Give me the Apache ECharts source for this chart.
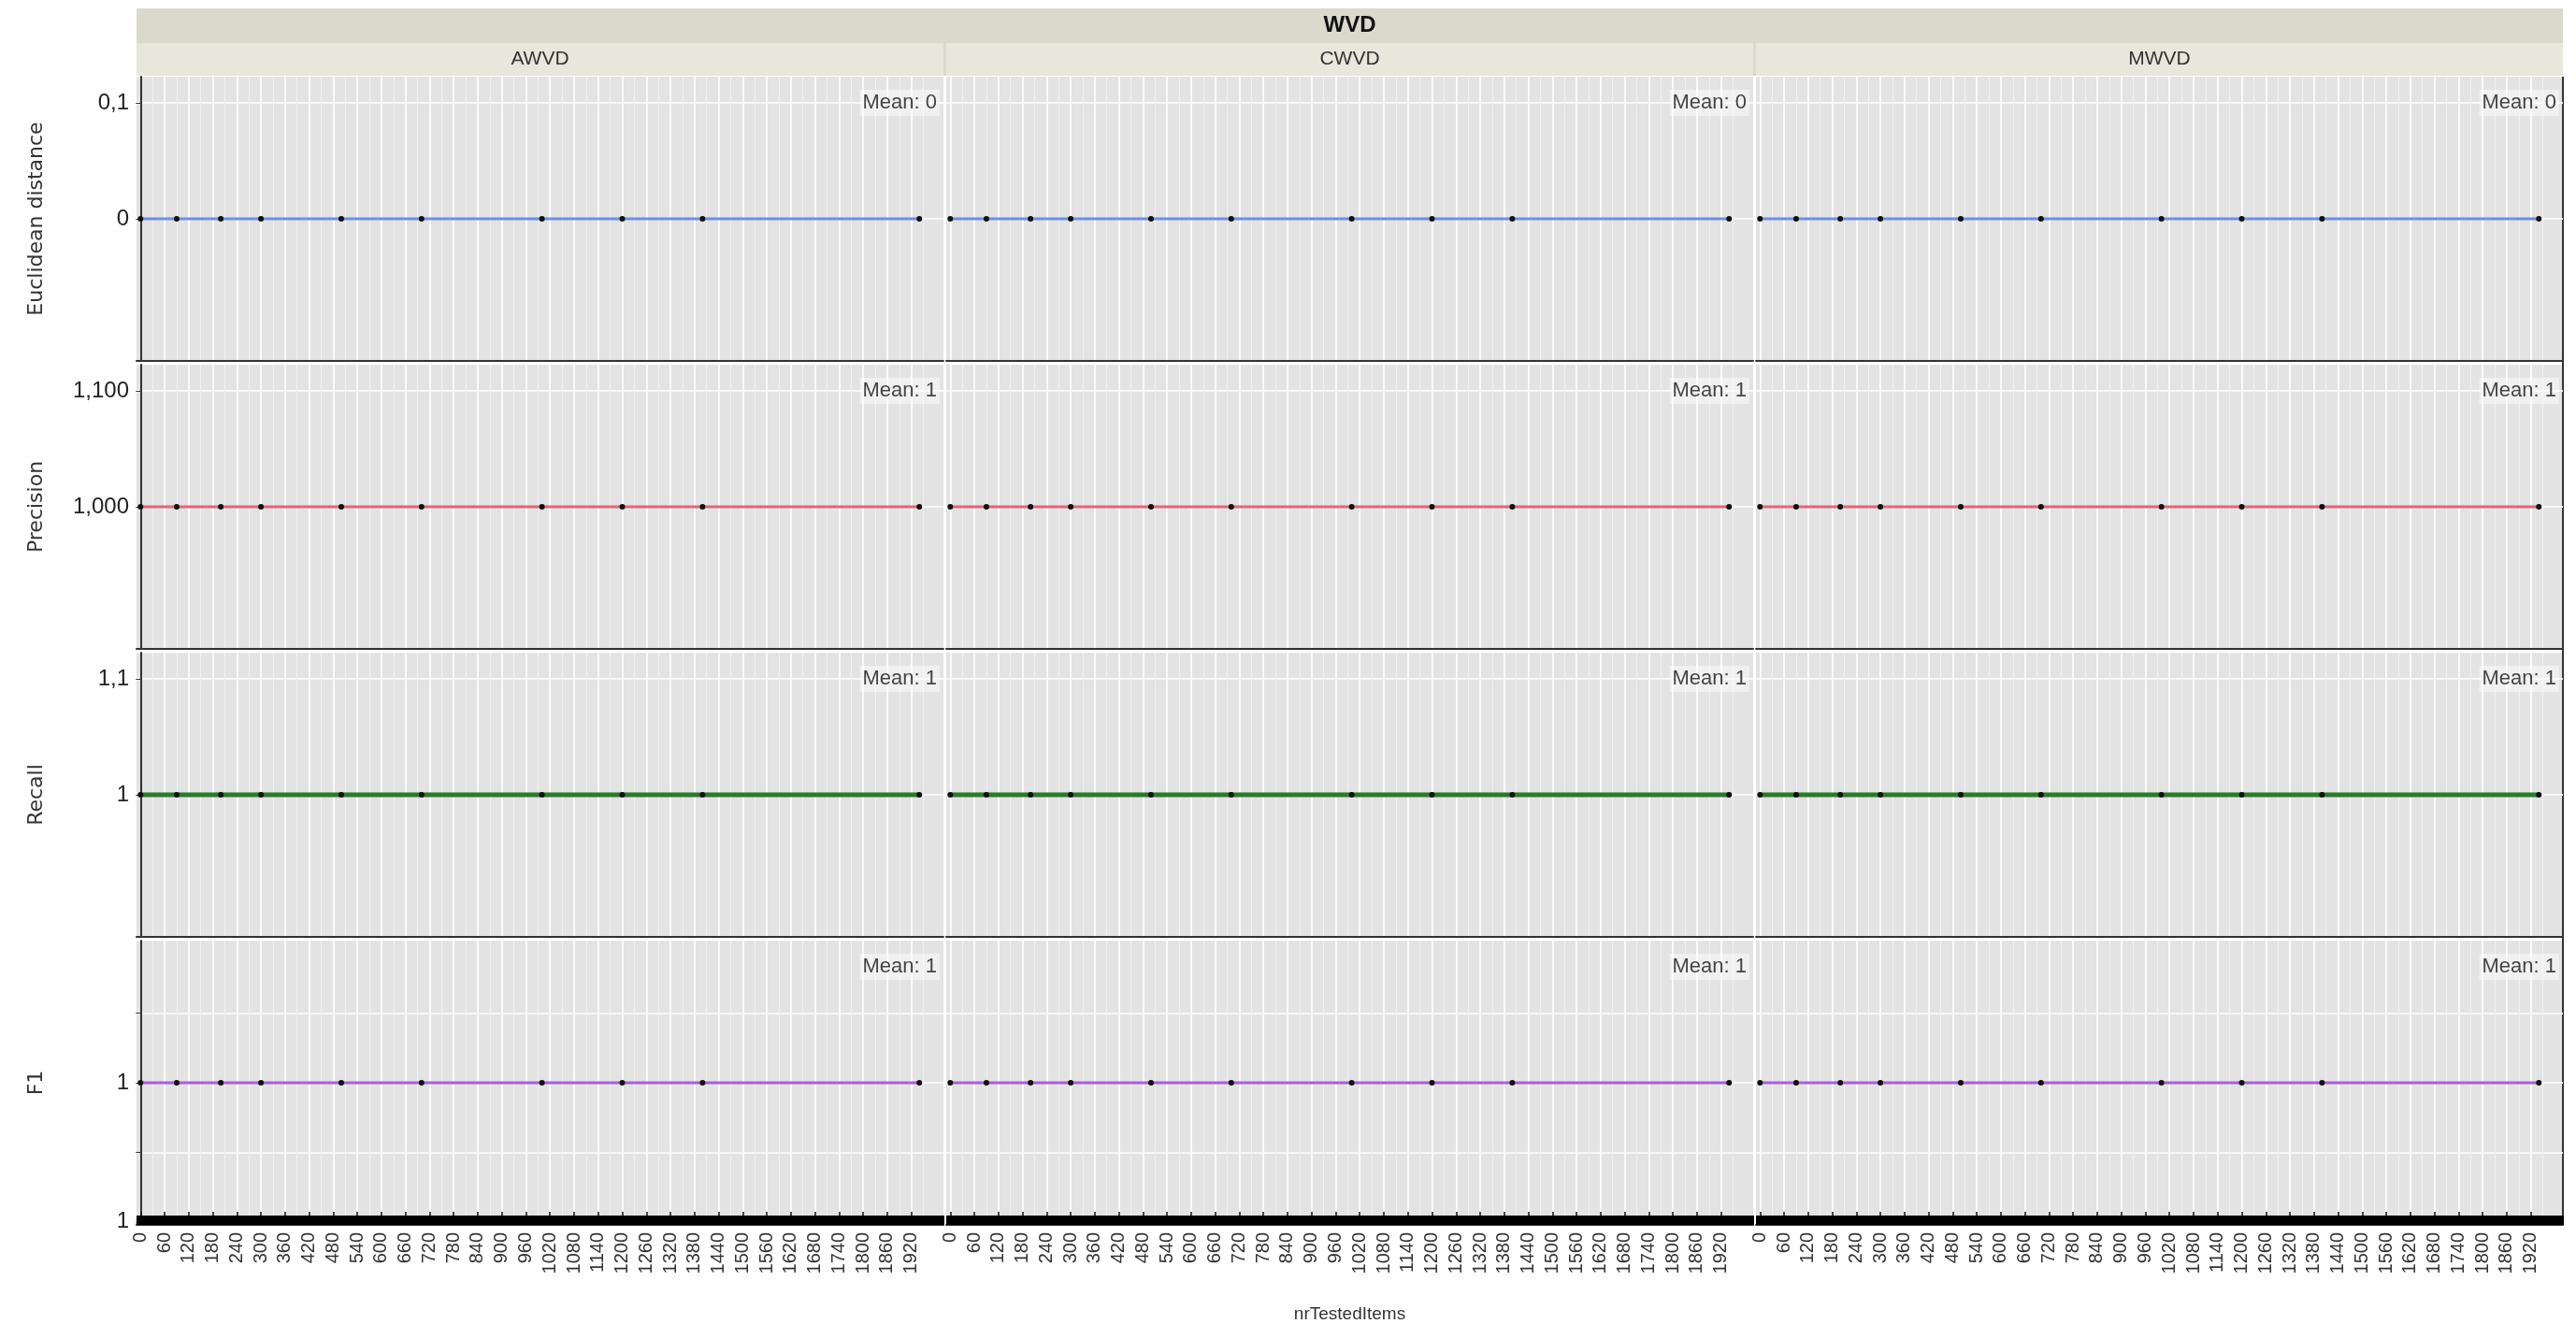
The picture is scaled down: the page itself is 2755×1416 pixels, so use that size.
<!DOCTYPE html>
<html>
<head>
<meta charset="utf-8">
<script src="https://cdn.jsdelivr.net/npm/echarts@6/dist/echarts.min.js"></script>
<style>
  html, body { margin: 0; padding: 0; background: #fff; }
  #chart { width: 2755px; height: 1416px; }
</style>
</head>
<body>
<div id="chart"></div>
<script>
// facets
const columns = ['AWVD', 'CWVD', 'MWVD'];
const metrics = ['Euclidean distance', 'Precision', 'Recall', 'F1'];
const groupTitle = 'WVD';

// data (same in all three columns)
const nrTestedItems = [0, 90, 200, 300, 500, 700, 1000, 1200, 1400, 1940];
const euclidean = [0, 0, 0, 0, 0, 0, 0, 0, 0, 0];
const precision = [1, 1, 1, 1, 1, 1, 1, 1, 1, 1];
const recall = [1, 1, 1, 1, 1, 1, 1, 1, 1, 1];
const f1 = [1, 1, 1, 1, 1, 1, 1, 1, 1, 1];
const means = [0, 1, 1, 1];

// x tick labels
const xTicks = [0, 60, 120, 180, 240, 300, 360, 420, 480, 540, 600, 660, 720, 780, 840, 900, 960,
  1020, 1080, 1140, 1200, 1260, 1320, 1380, 1440, 1500, 1560, 1620, 1680, 1740, 1800, 1860, 1920];

// y ticks / labels per row
const yTicksEuclid = [0, 0.1];
const yLabelsEuclid = ['0', '0,1'];
const yTicksPrecision = [1, 1.1];
const yLabelsPrecision = ['1,000', '1,100'];
const yTicksRecall = [1, 1.1];
const yLabelsRecall = ['1', '1,1'];
const yTicksF1 = [0.88, 0.94, 1, 1.06];
const yLabelsF1 = ['1', '', '1', ''];

const rowValues = [euclidean, precision, recall, f1];
const rowTicks = [yTicksEuclid, yTicksPrecision, yTicksRecall, yTicksF1];
const rowLabels = [yLabelsEuclid, yLabelsPrecision, yLabelsRecall, yLabelsF1];
const rowCenter = [0, 1, 1, 1];
const halfRange = 0.1226;
const lineColors = ['#6f8fe0', '#e0677a', '#2b7a2b', '#a85fd8'];

// layout
const colLeft = [146, 1012, 1878];
const colW = 863;
const rowTop = [82, 390, 698, 1006];
const rowH = 304;
const narrow = "'Liberation Sans Narrow', 'Liberation Sans', Arial, sans-serif";

const grids = [], xAxes = [], yAxes = [], series = [], titles = [];

for (let r = 0; r < 4; r++) {
  for (let c = 0; c < 3; c++) {
    const gi = r * 3 + c;
    const bottom = r === 3;
    grids.push({
      left: colLeft[c], top: rowTop[r], width: colW, height: rowH,
      show: true, backgroundColor: '#e3e3e3', borderWidth: 0
    });

    const mainX = xAxes.length;
    xAxes.push({
      type: 'value', gridIndex: gi, min: -10, max: 2000, position: 'bottom',
      name: (bottom && c === 1) ? 'nrTestedItems' : '',
      nameLocation: 'middle', nameGap: 86,
      nameTextStyle: { fontSize: 19, color: '#333', fontFamily: 'Arial, sans-serif' },
      axisLine: { show: true, onZero: false, lineStyle: { color: '#333', width: 2 } },
      axisTick: { show: bottom, inside: true, length: 14, customValues: xTicks, lineStyle: { color: '#111', width: 1.5 } },
      axisLabel: {
        show: bottom, customValues: xTicks, rotate: 90, margin: 8,
        fontSize: 20, color: '#333', fontFamily: 'Arial, sans-serif',
        formatter: v => String(v)
      },
      splitLine: { show: true, lineStyle: { color: '#fafafa', width: 2 } }
    });
    // minor vertical grid lines between labelled ticks
    xAxes.push({
      type: 'value', gridIndex: gi, min: -10, max: 2000, position: 'top',
      axisLine: { show: false },
      axisTick: { show: false, customValues: xTicks.map(v => v + 30) },
      axisLabel: { show: false },
      splitLine: { show: true, lineStyle: { color: '#f0f0f0', width: 1 } }
    });
    if (bottom) {
      // dense tick band along the bottom axis
      xAxes.push({
        type: 'value', gridIndex: gi, min: -10, max: 2000, interval: 2, position: 'bottom',
        axisLine: { show: false },
        axisTick: { show: true, inside: true, length: 10, lineStyle: { color: '#000', width: 1 } },
        axisLabel: { show: false },
        splitLine: { show: false }
      });
    }

    const ticks = rowTicks[r], labels = rowLabels[r];
    yAxes.push({
      type: 'value', gridIndex: gi,
      min: rowCenter[r] - halfRange, max: rowCenter[r] + halfRange,
      name: c === 0 ? metrics[r] : '',
      nameLocation: 'middle', nameGap: 96,
      nameTextStyle: { fontSize: 22, color: '#333', fontFamily: "'DejaVu Sans', sans-serif" },
      axisLine: { show: c === 0, lineStyle: { color: '#333', width: 2 } },
      axisTick: { show: c === 0, length: 5, customValues: ticks, lineStyle: { color: '#333' } },
      axisLabel: {
        show: c === 0, customValues: ticks, margin: 8,
        fontSize: 24, color: '#222', fontFamily: narrow,
        formatter: function (v) {
          const i = ticks.findIndex(t => Math.abs(t - v) < 1e-9);
          return i >= 0 ? labels[i] : '';
        }
      },
      splitLine: { show: true, lineStyle: { color: '#f7f7f7', width: 2 } }
    });

    series.push({
      type: 'line', xAxisIndex: mainX, yAxisIndex: gi,
      data: nrTestedItems.map((x, i) => [x, rowValues[r][i]]),
      symbol: 'circle', symbolSize: 6, showSymbol: true,
      itemStyle: { color: '#111' },
      lineStyle: { color: lineColors[r], width: r === 2 ? 5 : 3 },
      silent: true, animation: false
    });

    titles.push({
      text: 'Mean: ' + means[r],
      right: 2755 - (colLeft[c] + colW) + 4,
      top: rowTop[r] + 14,
      padding: [3, 3],
      backgroundColor: 'rgba(255,255,255,0.45)',
      textStyle: { fontSize: 22, fontWeight: 'normal', color: '#444', fontFamily: narrow }
    });
  }
}

// facet strips
const right = colLeft[2] + colW;
const graphics = [
  { type: 'rect', shape: { x: colLeft[0], y: 9, width: right - colLeft[0], height: 72 }, style: { fill: '#d9d9cc' } },
  {
    type: 'text', x: (colLeft[0] + right) / 2, y: 27,
    style: { text: groupTitle, font: 'bold 24px Arial, sans-serif', fill: '#111', align: 'center', verticalAlign: 'middle' }
  },
  { type: 'line', shape: { x1: right, y1: rowTop[0], x2: right, y2: rowTop[3] + rowH }, style: { stroke: '#333', lineWidth: 2 } }
];
columns.forEach((name, c) => {
  graphics.push({ type: 'rect', shape: { x: colLeft[c], y: 46, width: colW, height: 35 }, style: { fill: '#e7e7dc' } });
  graphics.push({
    type: 'text', x: colLeft[c] + colW / 2, y: 63,
    style: { text: name, font: '21px Arial, sans-serif', fill: '#333', align: 'center', verticalAlign: 'middle' }
  });
});

const myChart = echarts.init(document.getElementById('chart'));
myChart.setOption({
  animation: false,
  backgroundColor: '#fff',
  title: titles,
  grid: grids,
  xAxis: xAxes,
  yAxis: yAxes,
  series: series,
  graphic: graphics
});
</script>
</body>
</html>
